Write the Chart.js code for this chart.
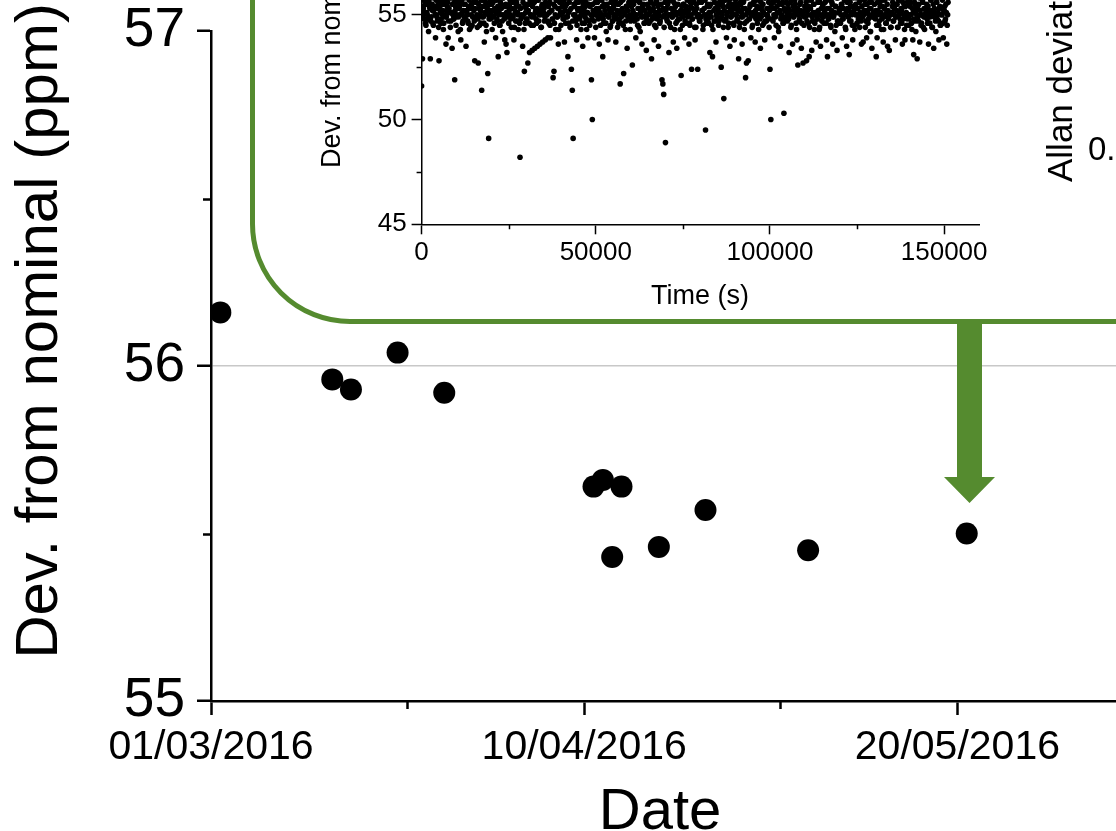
<!DOCTYPE html>
<html>
<head>
<meta charset="utf-8">
<title>Dev. from nominal</title>
<script src="https://cdn.jsdelivr.net/npm/chart.js@4.4.1/dist/chart.umd.min.js"></script>
<style>
  html, body { margin: 0; padding: 0; background: #fff; overflow: hidden; }
  #wrap { position: relative; width: 1116px; height: 831px; overflow: hidden; }
  #main-chart { position: absolute; left: 0; top: 0; }
  #inset-frame {
    position: absolute; left: 250px; top: -300px; width: 1200px; height: 624px;
    box-sizing: border-box; border: 5px solid #558b2f; border-radius: 100px; background: #fff;
  }
  #inset-chart { position: absolute; left: 300px; top: -150px; }
  #arrow { position: absolute; left: 0; top: 0; }
</style>
</head>
<body>
<div id="wrap">
  <canvas id="main-chart" width="1116" height="831"></canvas>
  <div id="inset-frame"></div>
  <canvas id="inset-chart" width="816" height="480"></canvas>
  <svg id="arrow" width="1116" height="831">
    <polygon points="957,322 982,322 982,477 995,477 969.5,503 944,477 957,477" fill="#558b2f"/>
  </svg>
</div>
<script>
const FONT = "'Liberation Sans', Arial, sans-serif";

// main panel: one measurement per date, deviation in ppm
const pointDates = ['2016-03-02', '2016-03-14', '2016-03-16', '2016-03-21', '2016-03-26',
    '2016-04-11', '2016-04-12', '2016-04-13', '2016-04-14', '2016-04-18',
    '2016-04-23', '2016-05-04', '2016-05-21'];
const pointValues = [56.16, 55.96, 55.93, 56.04, 55.92,
    55.64, 55.66, 55.43, 55.64, 55.46,
    55.57, 55.45, 55.50];
const dateTickDays = [0, 40, 80];
const dateTickLabels = ['01/03/2016', '10/04/2016', '20/05/2016'];
const dateMinorDays = [21, 61];
const devTicks = [55, 56, 57];
const devMinor = [55.5, 56.5];

// inset: readings every 250 s, plus the readings half-way between them
// (only the part below ~55.8 is in view)
const insetSampleSeconds = 250;
const insetValues = [
    51.6, 52.9, 55.3, 54.8, 55.6, 54.5, 55.1, 55.7, 54.2, 55.4, 52.9, 54.9, 55.5, 54.6, 55.2, 55.8, 53.9, 55.0, 54.7, 55.5,
    52.8, 55.3, 54.6, 55.7, 55.0, 54.3, 55.5, 54.9, 53.6, 55.2, 55.6, 54.7, 55.1, 54.4, 55.8, 53.4, 55.0, 54.8, 51.9, 55.4,
    54.9, 55.6, 54.2, 55.3, 55.0, 53.8, 55.7, 54.6, 55.2, 54.9, 55.5, 53.5, 55.1, 54.7, 55.4, 54.3, 55.8, 55.0, 54.5, 55.3,
    55.2, 52.8, 54.8, 55.6, 54.4, 52.7, 55.3, 55.0, 54.6, 51.4, 55.7, 54.9, 53.7, 55.4, 54.5, 55.1, 52.2, 49.1, 55.5, 54.8,
    55.0, 54.3, 55.6, 54.9, 55.3, 53.9, 55.7, 54.7, 53.0, 55.2, 54.5, 55.5, 55.0, 54.2, 55.8, 54.8, 55.4, 53.6, 53.2, 55.1,
    54.6, 55.5, 55.0, 54.4, 55.7, 54.9, 53.8, 55.3, 54.7, 55.6, 55.1, 54.3, 55.4, 48.2, 54.8, 55.8, 53.5, 55.0, 52.3, 54.6,
    55.3, 54.8, 52.7, 55.5, 53.2, 55.0, 54.5, 53.3, 55.6, 54.9, 53.4, 55.2, 54.6, 53.5, 55.7, 55.0, 53.6, 54.4, 55.4, 53.7,
    55.1, 54.7, 53.8, 55.5, 55.0, 53.9, 54.6, 55.6, 53.9, 55.2, 54.8, 52.0, 52.3, 55.4, 54.3, 55.7, 54.9, 53.6, 55.3, 55.0,
    54.5, 55.6, 55.1, 54.8, 53.7, 55.4, 54.9, 55.8, 53.0, 54.6, 55.2, 54.4, 52.4, 51.4, 49.1, 55.5, 55.0, 54.7, 53.8, 55.3,
    55.6, 54.9, 55.2, 54.3, 55.7, 53.5, 55.0, 54.6, 55.4, 54.8, 55.1, 53.9, 55.5, 54.5, 55.8, 51.9, 50.0, 55.2, 54.7, 55.0,
    54.4, 55.3, 55.6, 54.8, 53.6, 55.1, 54.9, 55.7, 53.0, 54.6, 55.4, 55.0, 54.2, 55.5, 53.8, 54.9, 55.2, 54.5, 55.8, 54.7,
    55.3, 54.9, 55.6, 53.7, 55.0, 54.4, 55.5, 54.8, 51.7, 55.2, 54.6, 55.7, 52.2, 55.1, 54.3, 55.4, 53.4, 54.9, 55.6, 55.0,
    54.7, 55.4, 52.6, 55.1, 54.8, 55.7, 53.9, 55.0, 54.5, 55.3, 55.6, 54.2, 55.2, 53.6, 54.9, 55.5, 54.6, 55.8, 53.3, 55.0,
    55.4, 54.6, 55.1, 55.7, 52.9, 54.8, 55.3, 53.8, 55.0, 54.4, 55.6, 54.9, 53.5, 55.2, 54.7, 55.5, 51.9, 51.7, 51.2, 55.0,
    48.9, 55.3, 54.7, 55.6, 53.2, 55.0, 54.4, 55.7, 54.9, 53.7, 55.2, 55.5, 54.6, 53.4, 55.1, 54.8, 55.8, 54.3, 52.1, 55.4,
    54.9, 55.5, 53.9, 55.2, 54.6, 55.7, 55.0, 53.6, 54.5, 55.4, 52.4, 54.8, 55.6, 55.1, 53.8, 54.4, 55.3, 52.4, 55.0, 54.7,
    55.6, 54.9, 55.2, 54.3, 55.7, 55.0, 49.5, 54.6, 55.4, 54.8, 55.1, 53.2, 55.5, 54.5, 53.0, 55.8, 54.7, 55.3, 53.7, 54.9,
    55.2, 54.5, 55.6, 54.8, 52.5, 55.0, 55.4, 51.0, 54.7, 55.7, 53.9, 55.1, 54.4, 55.5, 53.5, 54.9, 55.3, 55.8, 54.6, 53.8,
    55.0, 55.5, 54.7, 55.2, 52.9, 54.4, 55.6, 54.9, 53.6, 55.3, 55.7, 54.6, 52.0, 52.7, 55.1, 52.8, 54.8, 55.4, 53.9, 55.0,
    54.5, 55.6, 55.1, 53.7, 54.8, 55.4, 55.0, 54.3, 55.7, 53.4, 54.9, 55.2, 55.5, 54.6, 53.8, 55.8, 54.7, 55.0, 55.3, 54.4,
    52.4, 50.0, 55.3, 54.8, 55.6, 53.9, 55.0, 54.5, 55.4, 55.7, 54.2, 55.1, 53.5, 54.9, 55.5, 54.6, 50.3, 55.2, 54.8, 55.6,
    54.7, 55.3, 53.2, 55.0, 54.4, 55.7, 53.6, 54.9, 55.2, 55.5, 54.6, 53.8, 52.6, 55.1, 54.8, 55.6, 53.4, 55.0, 52.7, 54.5,
    55.4, 54.9, 52.8, 55.2, 54.6, 53.0, 55.7, 55.0, 53.3, 54.7, 55.5, 54.3, 55.1, 53.7, 54.8, 55.6, 55.0, 54.4, 53.5, 55.3,
    54.9, 55.5, 54.6, 55.2, 55.7, 53.8, 53.0, 54.8, 55.3, 55.0, 54.4, 55.6, 53.6, 54.9, 55.1, 55.4, 54.5, 53.3, 55.8, 54.7,
    55.2, 54.6, 55.5, 53.9, 54.8, 55.0, 55.7, 54.3, 53.5, 55.3, 54.9, 53.1, 55.6, 54.7, 55.1, 53.8, 55.4, 54.5, 55.0, 55.8,
    54.6, 55.3, 55.0, 54.4, 55.7, 53.6, 54.9, 53.7, 55.2, 55.5, 54.7, 53.9, 55.1, 54.8, 55.6, 54.2, 55.3, 53.4, 54.9, 55.0,
    55.5, 54.8, 53.0, 53.9, 55.2, 54.5, 55.6, 55.0, 54.3, 55.4, 53.7, 54.9, 55.7, 54.6, 55.1, 53.5, 54.8, 53.3, 55.0, 54.4,
    55.1, 55.6, 54.7, 55.3, 53.8, 54.9, 55.5, 54.4, 55.0, 55.7, 54.6, 55.2, 53.6, 54.8, 55.4, 53.8, 55.0, 54.5, 55.6, 54.9,
    54.8, 55.4, 55.0, 54.3, 53.8, 53.1, 55.6, 54.7, 55.2, 52.9, 54.9, 55.5, 53.7, 55.0, 54.6, 55.7, 54.4, 55.3, 54.9, 55.1,
    55.5, 54.6, 53.6, 55.2, 54.9, 55.7, 54.4, 55.0, 53.4, 55.3, 54.7, 55.6, 54.8, 55.1, 53.8, 55.4, 54.5, 55.0, 55.7, 53.9,
    55.2, 54.7, 55.5, 53.6, 55.0
];
const insetValuesMid = [
    55.4, 54.9, 55.7, 55.1, 54.6, 55.5, 55.0, 54.8, 55.6, 55.3, 54.7, 55.8, 55.2, 54.5, 55.4, 55.0, 55.7, 54.9, 55.3, 54.4,
    55.6, 55.1, 54.8, 55.5, 55.2, 54.6, 55.7, 55.0, 54.9, 55.4, 53.9, 55.3, 55.8, 54.7, 55.1, 55.5, 54.8, 55.6, 55.2, 54.5,
    55.0, 55.7, 54.9, 55.4, 54.3, 55.6, 55.1, 54.7, 55.5, 55.8, 54.8, 55.2, 55.0, 54.6, 55.7, 55.3, 54.4, 55.5, 54.9, 55.6,
    54.7, 55.3, 55.8, 55.0, 54.8, 55.5, 54.5, 55.2, 55.7, 54.9, 55.4, 54.6, 55.1, 55.6, 54.2, 55.3, 55.0, 54.8, 55.7, 55.2,
    55.5, 54.9, 55.2, 54.6, 55.7, 55.1, 54.8, 55.4, 55.0, 54.5, 55.6, 55.3, 54.7, 55.8, 55.0, 53.8, 55.5, 55.1, 54.9, 55.4,
    55.2, 55.7, 54.8, 55.3, 54.9, 55.6, 54.4, 55.1, 55.5, 54.7, 55.0, 55.8, 54.6, 55.3, 55.0, 54.9, 55.6, 54.3, 55.4, 55.1,
    54.8, 55.5, 55.2, 54.6, 55.7, 55.0, 54.9, 55.4, 54.5, 55.6, 55.1, 54.8, 55.3, 55.7, 54.7, 55.2, 55.0, 54.4, 55.5, 55.8,
    55.3, 54.9, 55.6, 55.0, 54.7, 55.4, 55.1, 54.5, 55.8, 55.2, 54.8, 55.5, 54.6, 55.0, 55.7, 54.9, 55.3, 54.3, 55.6, 55.1,
    55.0, 55.4, 54.8, 55.7, 55.2, 54.6, 55.5, 54.9, 55.1, 55.6, 54.4, 55.3, 55.8, 54.7, 55.0, 55.4, 54.9, 55.6, 54.5, 55.2,
    55.7, 54.8, 55.3, 55.0, 54.6, 55.5, 55.2, 54.9, 55.6, 54.3, 55.1, 55.8, 54.7, 55.4, 55.0, 54.8, 55.5, 55.2, 53.9, 55.6,
    55.1, 55.6, 54.9, 55.3, 55.7, 54.5, 55.0, 55.4, 54.8, 55.5, 55.2, 54.6, 55.8, 55.0, 54.9, 55.3, 54.4, 55.6, 55.1, 54.7,
    55.4, 55.0, 55.7, 54.8, 55.2, 55.5, 54.6, 55.1, 55.6, 54.9, 55.3, 54.5, 55.8, 55.0, 54.7, 55.4, 55.2, 54.9, 55.5, 54.3,
    55.6, 54.9, 55.2, 55.5, 54.7, 55.0, 55.7, 54.8, 55.3, 54.4, 55.6, 55.1, 54.9, 55.4, 55.8, 54.6, 55.2, 55.0, 54.8, 55.5,
    55.0, 55.3, 54.7, 55.6, 55.2, 54.9, 55.5, 54.5, 55.1, 55.7, 54.8, 55.4, 55.0, 54.6, 55.8, 55.2, 54.9, 55.3, 54.4, 55.6,
    55.2, 54.8, 55.5, 55.0, 54.6, 55.7, 55.3, 54.9, 55.1, 55.6, 54.3, 55.4, 55.0, 54.7, 55.5, 55.8, 54.8, 55.2, 55.0, 54.5,
    55.5, 55.1, 54.7, 55.4, 55.8, 54.9, 55.2, 54.6, 55.6, 55.0, 54.8, 55.3, 55.7, 54.4, 55.1, 55.5, 54.9, 55.0, 55.6, 54.7,
    54.9, 55.6, 55.2, 54.5, 55.3, 55.7, 54.8, 55.0, 55.5, 54.6, 55.4, 55.1, 54.9, 55.8, 54.3, 55.2, 55.6, 54.7, 55.0, 55.4,
    55.3, 54.7, 55.5, 55.1, 54.9, 55.6, 54.4, 55.2, 55.8, 54.8, 55.0, 55.4, 54.6, 55.7, 55.2, 54.9, 55.1, 55.5, 54.5, 55.3,
    55.7, 55.0, 54.8, 55.4, 55.2, 54.6, 55.5, 55.1, 54.9, 55.6, 54.3, 55.3, 55.0, 54.7, 55.8, 55.2, 54.8, 55.5, 55.0, 54.4,
    55.1, 55.5, 54.9, 55.2, 55.7, 54.6, 55.3, 55.0, 54.8, 55.6, 55.4, 54.5, 55.1, 55.8, 54.7, 55.0, 55.3, 54.9, 55.6, 55.2,
    54.8, 55.4, 55.6, 54.7, 55.0, 55.3, 54.9, 55.7, 55.1, 54.4, 55.5, 55.2, 54.8, 55.0, 55.6, 54.6, 55.3, 55.8, 54.9, 55.1,
    55.5, 54.8, 55.2, 55.6, 54.5, 55.0, 55.4, 54.9, 55.7, 55.1, 54.3, 55.3, 55.0, 54.7, 55.5, 55.2, 54.6, 55.8, 55.0, 54.9,
    55.2, 55.6, 54.7, 55.0, 55.4, 54.4, 55.3, 55.7, 54.9, 55.1, 55.5, 54.6, 55.0, 55.8, 54.8, 55.2, 54.3, 55.6, 55.0, 54.7,
    55.4, 54.9, 55.1, 55.6, 54.6, 55.3, 55.0, 54.8, 55.7, 54.5, 55.2, 55.5, 54.9, 55.0, 54.2, 55.4, 55.8, 54.7, 55.1, 55.3,
    54.6, 55.0, 55.5, 54.8, 55.3, 55.7, 54.4, 55.1, 55.6, 54.9, 55.2, 54.7, 55.4, 55.0, 54.5, 55.8, 55.2, 54.3, 55.5, 55.0,
    55.3, 54.8, 55.6, 55.1, 54.7, 55.4, 54.9, 55.0, 55.7, 54.4, 55.2, 55.5, 54.6, 55.0, 55.3, 54.2, 55.6, 54.9, 55.1, 55.8,
    54.9, 55.2, 54.5, 55.6, 55.0, 54.7, 55.4, 55.1, 54.8, 55.7, 54.3, 55.3, 55.0, 54.6, 55.5, 55.2, 54.9, 55.8, 54.4, 55.1,
    55.4, 54.7, 55.0, 55.5, 54.9, 55.2, 54.4, 55.7, 55.1, 54.8, 55.3, 54.6, 55.6, 55.0, 54.3, 55.4, 55.1, 54.8, 55.7, 54.5,
    55.0, 55.6, 54.6, 55.3, 55.1, 54.8, 55.5, 54.2, 55.0, 55.4, 54.7, 55.8, 55.2, 54.5, 55.0, 55.6, 54.9, 54.3, 55.3, 55.1,
    54.8, 55.4, 55.0, 54.6, 55.7, 55.2, 54.4, 55.5, 54.9, 55.1, 54.2, 55.6, 55.0, 54.7, 55.3, 54.5, 55.8, 55.0, 54.6, 55.2,
    55.4, 54.8, 55.1, 54.5, 55.6
];
const insetTimeTicks = [0, 50000, 100000, 150000];
const insetTimeLabels = ['0', '50000', '100000', '150000'];
const insetTimeMinor = [25000, 75000, 125000];
const insetDevTicks = [45, 50, 55, 60];
const insetDevMinor = [47.5, 52.5, 57.5];

const startDay = Date.parse('2016-03-01');
const mainPoints = pointDates.map((d, i) => ({ x: (Date.parse(d) - startDay) / 86400000, y: pointValues[i] }));
const insetPoints = [];
insetValues.forEach((v, i) => {
    insetPoints.push({ x: i * insetSampleSeconds, y: v });
    if (i < insetValuesMid.length) {
        insetPoints.push({ x: i * insetSampleSeconds + insetSampleSeconds / 2, y: insetValuesMid[i] });
    }
});

// short ticks between the labelled ones
const minorTicks = {
    id: 'minorTicks',
    afterDraw(chart, args, opts) {
        const { ctx, scales: { x, y } } = chart;
        ctx.save();
        ctx.strokeStyle = '#000';
        ctx.lineWidth = opts.width;
        ctx.beginPath();
        opts.x.forEach(v => {
            const px = Math.round(x.getPixelForValue(v)) + 0.5;
            ctx.moveTo(px, y.bottom);
            ctx.lineTo(px, y.bottom + opts.length);
        });
        opts.y.forEach(v => {
            const py = Math.round(y.getPixelForValue(v)) + 0.5;
            ctx.moveTo(x.left, py);
            ctx.lineTo(x.left - opts.length, py);
        });
        ctx.stroke();
        ctx.restore();
    }
};

// axis titles placed where the original figure has them
const freeText = {
    id: 'freeText',
    afterDraw(chart, args, opts) {
        const ctx = chart.ctx;
        opts.items.forEach(t => {
            ctx.save();
            ctx.font = t.size + 'px ' + FONT;
            ctx.fillStyle = '#000';
            ctx.textAlign = t.align || 'center';
            ctx.textBaseline = 'alphabetic';
            ctx.translate(t.x, t.y);
            if (t.vertical) ctx.rotate(-Math.PI / 2);
            ctx.fillText(t.text, 0, 0);
            ctx.restore();
        });
    }
};

const setTicks = list => scale => { scale.ticks = list.map(v => ({ value: v })); };
// fixed axis box, no extra room for overhanging labels
const fixSize = (w, h) => scale => {
    if (w !== null) scale.width = w;
    if (h !== null) scale.height = h;
    scale.paddingTop = 0;
    scale.paddingBottom = 0;
    scale.paddingLeft = 0;
    scale.paddingRight = 0;
};

new Chart(document.getElementById('main-chart'), {
    type: 'scatter',
    data: {
        datasets: [{
            data: mainPoints,
            pointRadius: 11,
            pointHoverRadius: 11,
            backgroundColor: '#000',
            borderColor: '#000',
            borderWidth: 0
        }]
    },
    options: {
        responsive: false,
        animation: false,
        events: [],
        layout: { autoPadding: false, padding: { top: 31, right: 0, bottom: 0, left: 0 } },
        plugins: {
            legend: { display: false },
            tooltip: { enabled: false },
            minorTicks: { x: dateMinorDays, y: devMinor, length: 8, width: 2.5 },
            freeText: {
                items: [
                    { text: 'Dev. from nominal (ppm)', x: 57, y: 331, size: 60, vertical: true },
                    { text: 'Date', x: 660, y: 829, size: 58 }
                ]
            }
        },
        scales: {
            x: {
                type: 'linear',
                min: 0,
                max: 97,
                afterFit: fixSize(null, 130),
                afterBuildTicks: setTicks(dateTickDays),
                ticks: {
                    callback: (v, i) => dateTickLabels[i],
                    font: { family: FONT, size: 41 },
                    color: '#000',
                    padding: 8,
                    maxRotation: 0,
                    autoSkip: false
                },
                grid: { drawOnChartArea: false, tickLength: 14, tickWidth: 2.5, tickColor: '#000' },
                border: { display: true, color: '#000', width: 2.5 }
            },
            y: {
                min: 55,
                max: 57,
                afterFit: fixSize(211, null),
                afterBuildTicks: setTicks(devTicks),
                ticks: {
                    font: { family: FONT, size: 55, lineHeight: 1 },
                    color: '#000',
                    padding: 12
                },
                grid: {
                    color: c => (c.tick && c.tick.value === 56) ? '#c8c8c8' : 'rgba(0,0,0,0)',
                    lineWidth: 1.5,
                    tickLength: 14,
                    tickWidth: 2.5,
                    tickColor: '#000'
                },
                border: { display: true, color: '#000', width: 2.5 }
            }
        }
    },
    plugins: [minorTicks, freeText]
});

new Chart(document.getElementById('inset-chart'), {
    type: 'scatter',
    data: {
        datasets: [{
            data: insetPoints,
            pointRadius: 2.8,
            pointHoverRadius: 2.8,
            backgroundColor: '#000',
            borderColor: '#000',
            borderWidth: 0
        }]
    },
    options: {
        responsive: false,
        animation: false,
        events: [],
        layout: { autoPadding: false, padding: { top: 60, right: 137, bottom: 0, left: 0 } },
        plugins: {
            legend: { display: false },
            tooltip: { enabled: false },
            minorTicks: { x: insetTimeMinor, y: insetDevMinor, length: 5, width: 1.5 },
            freeText: {
                items: [
                    { text: 'Time (s)', x: 400, y: 454, size: 27 },
                    { text: 'Dev. from nominal (ppm)', x: 39.5, y: 318, size: 27, vertical: true, align: 'left' },
                    { text: 'Allan deviation (ppm)', x: 772, y: 332, size: 35, vertical: true, align: 'left' },
                    { text: '0.1', x: 788, y: 310, size: 33, align: 'left' }
                ]
            }
        },
        scales: {
            x: {
                type: 'linear',
                min: 0,
                max: 160000,
                afterFit: fixSize(null, 105.7),
                afterBuildTicks: setTicks(insetTimeTicks),
                ticks: {
                    callback: (v, i) => insetTimeLabels[i],
                    font: { family: FONT, size: 26 },
                    color: '#000',
                    padding: 3,
                    maxRotation: 0,
                    autoSkip: false
                },
                grid: { drawOnChartArea: false, tickLength: 10, tickWidth: 1.5, tickColor: '#000' },
                border: { display: true, color: '#000', width: 1.5 }
            },
            y: {
                min: 45,
                max: 60,
                afterFit: fixSize(121.6, null),
                afterBuildTicks: setTicks(insetDevTicks),
                ticks: {
                    font: { family: FONT, size: 26, lineHeight: 1 },
                    color: '#000',
                    padding: 5
                },
                grid: { drawOnChartArea: false, tickLength: 10, tickWidth: 1.5, tickColor: '#000' },
                border: { display: true, color: '#000', width: 1.5 }
            }
        }
    },
    plugins: [minorTicks, freeText]
});
</script>
</body>
</html>
